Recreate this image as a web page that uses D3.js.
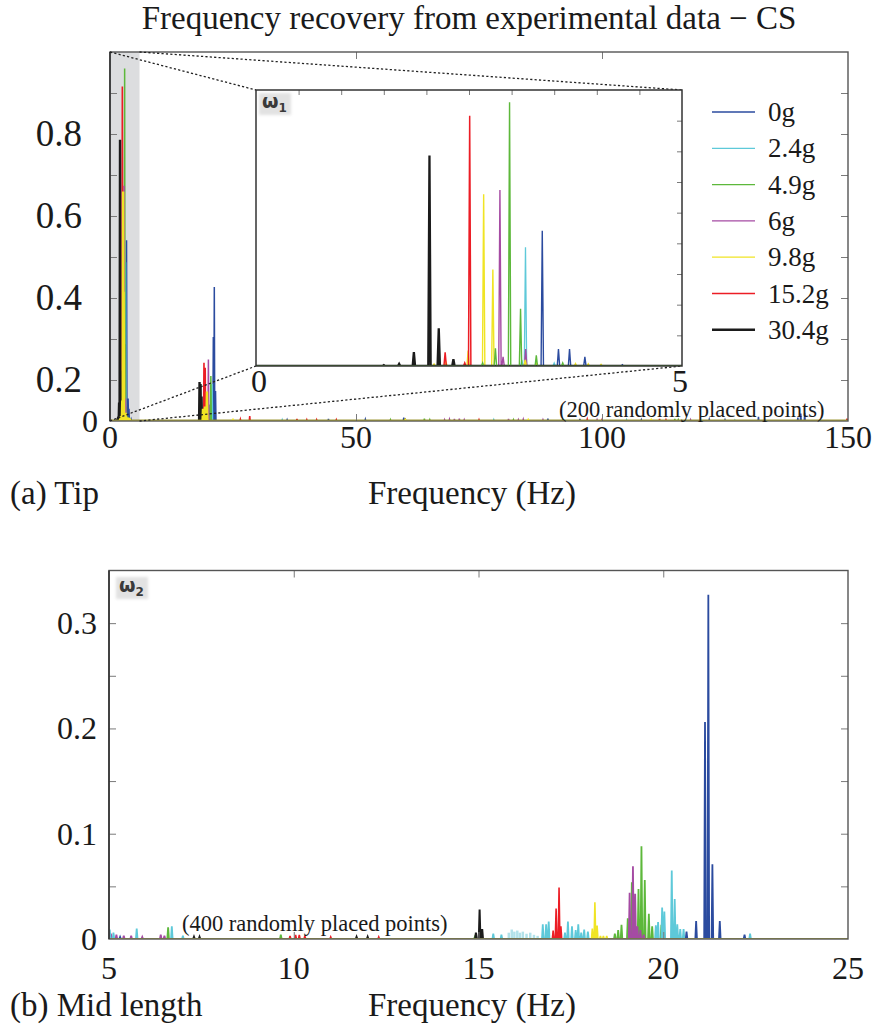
<!DOCTYPE html>
<html>
<head>
<meta charset="utf-8">
<script src="https://cdn.jsdelivr.net/npm/d3@7"></script>
<style>
  body { margin: 0; background: #fff; }
  svg { display: block; }
  text { font-family: "Liberation Serif", "Times New Roman", serif; fill: #1a1a1a; }
</style>
</head>
<body>
<svg id="chart" width="881" height="1026"></svg>
<script>
// ---- load cases and their colours ----
const loads = ["0g", "2.4g", "4.9g", "6g", "9.8g", "15.2g", "30.4g"];
const loadColors = ["#2b4b9f", "#5ec9d9", "#5db83b", "#a54ba3", "#f0e424", "#ec1d25", "#1b1b1b"];

// ---- (a) tip sensor: recovered spikes [frequency Hz, amplitude] ----
const tip_0g = [[3.36, 0.441], [3.55, 0.055], [3.68, 0.055], [3.86, 0.03], [4.3, 0.004],
  [21.0, 0.205], [21.2, 0.327], [21.45, 0.073], [36.0, 0.003], [44.4, 0.005], [51.9, 0.004], [59.7, 0.008],
  [89.0, 0.006], [95.5, 0.005], [108.0, 0.003], [121.8, 0.004], [125.0, 0.003], [131.8, 0.01],
  [139.8, 0.008], [140.4, 0.018], [141.2, 0.02]];
const tip_2_4g = [[3.163, 0.387], [3.12, 0.02], [3.5, 0.01], [20.75, 0.09], [20.6, 0.03],
  [35.0, 0.003], [78.0, 0.003], [105.0, 0.003], [127.0, 0.002]];
const tip_4_9g = [[2.976, 0.86], [3.105, 0.187], [2.81, 0.058], [3.29, 0.035], [2.66, 0.01], [3.6, 0.01],
  [20.5, 0.11], [20.3, 0.04], [57.0, 0.003], [63.9, 0.006], [65.0, 0.003], [82.0, 0.003], [92.0, 0.003],
  [114.8, 0.005], [115.5, 0.003]];
const tip_6g = [[2.863, 0.574], [3.165, 0.055], [2.9, 0.03], [20.0, 0.15], [19.9, 0.06],
  [68.0, 0.003], [69.0, 0.004], [70.0, 0.005], [71.0, 0.006], [72.0, 0.003], [81.0, 0.005], [83.0, 0.003],
  [84.0, 0.004], [88.0, 0.003], [99.0, 0.003], [118.0, 0.003]];
const tip_9_8g = [[2.672, 0.56], [2.78, 0.315], [2.49, 0.05], [2.23, 0.012], [2.09, 0.006], [3.16, 0.02],
  [3.29, 0.01], [3.75, 0.008], [3.9, 0.007], [4.05, 0.005], [19.7, 0.072], [19.3, 0.035], [18.9, 0.03],
  [25.0, 0.002], [60.0, 0.002], [85.0, 0.002], [110.0, 0.002]];
const tip_15_2g = [[2.508, 0.816], [2.22, 0.045], [2.45, 0.01], [19.1, 0.142], [19.35, 0.13], [19.25, 0.05],
  [26.5, 0.004], [28.4, 0.012], [38.0, 0.005], [40.0, 0.003], [42.0, 0.003], [46.0, 0.003], [75.0, 0.003],
  [97.0, 0.004], [100.0, 0.003], [111.7, 0.005], [113.0, 0.003], [149.8, 0.006]];
const tip_30_4g = [[2.036, 0.686], [2.145, 0.123], [1.853, 0.045], [1.68, 0.007], [2.317, 0.022], [1.5, 0.003],
  [18.2, 0.095], [18.4, 0.09], [18.6, 0.06], [60.0, 0.002]];
// faint trace of a spike visible in the zoomed view only
const tip_15_2g_faint = [[2.387, 0.166]];

// ---- (b) mid-length sensor ----
const mid_0g = [[21.13, 0.206], [21.22, 0.327], [21.33, 0.071], [21.53, 0.017], [20.89, 0.017],
  [20.63, 0.007], [22.2, 0.004], [5.3, 0.002]];
const mid_2_4g = [[20.23, 0.065], [20.31, 0.038], [19.97, 0.03], [20.03, 0.026], [19.86, 0.016], [19.8, 0.013],
  [20.38, 0.014], [20.46, 0.0095], [20.55, 0.0095], [22.35, 0.005], [16.74, 0.014], [16.83, 0.014],
  [16.9, 0.0165], [17.34, 0.006], [17.42, 0.0165], [17.53, 0.012], [17.63, 0.0085], [17.7, 0.014],
  [17.78, 0.006], [17.86, 0.009], [17.96, 0.007], [15.4, 0.005], [15.62, 0.004], [5.02, 0.009],
  [5.12, 0.006], [5.75, 0.01], [6.7, 0.012], [7.0, 0.003]];
const mid_4_9g = [[19.41, 0.088], [19.5, 0.056], [19.33, 0.0475], [19.61, 0.024], [19.15, 0.054], [19.04, 0.0196],
  [18.87, 0.0136], [18.78, 0.0085], [18.69, 0.005], [19.7, 0.012], [19.95, 0.0136], [6.6, 0.011],
  [9.65, 0.004], [14.9, 0.002]];
const mid_6g = [[19.18, 0.069], [19.09, 0.044], [19.24, 0.043], [19.3, 0.012], [19.38, 0.0085], [19.47, 0.004],
  [5.05, 0.005], [5.2, 0.004], [5.4, 0.003], [5.6, 0.003], [5.9, 0.002], [6.4, 0.004], [6.5, 0.003]];
const mid_9_8g = [[18.15, 0.035], [18.21, 0.0127], [18.08, 0.01], [18.3, 0.003], [18.38, 0.003], [18.47, 0.003]];
const mid_15_2g = [[17.18, 0.049], [17.1, 0.029], [17.23, 0.012], [17.02, 0.008], [9.9, 0.003], [10.05, 0.004],
  [10.15, 0.004], [10.3, 0.003], [11.0, 0.002], [12.3, 0.002]];
const mid_30_4g = [[15.03, 0.028], [15.1, 0.0095], [14.93, 0.006], [7.3, 0.002], [7.45, 0.002], [11.7, 0.002],
  [12.0, 0.002]];
// faint cluster just above 15.8 Hz
const mid_2_4g_faint = [[15.82, 0.006], [15.9, 0.009], [15.97, 0.007], [16.05, 0.008], [16.12, 0.006],
  [16.2, 0.007], [16.3, 0.005], [16.4, 0.006], [16.5, 0.004], [16.6, 0.003]];

// ---- axis tick labels ----
const tipXTicks = [0, 50, 100, 150];
const tipYLabelValues = [0, 0.1, 0.3, 0.5, 0.7];
const tipYLabels = ["0", "0.2", "0.4", "0.6", "0.8"];
const insetXTicks = [0, 5];
const midXTicks = [5, 10, 15, 20, 25];
const midYTicks = [0, 0.1, 0.2, 0.3];

const tipSeries = [tip_0g, tip_2_4g, tip_4_9g, tip_6g, tip_9_8g, tip_15_2g, tip_30_4g];
const midSeries = [mid_0g, mid_2_4g, mid_4_9g, mid_6g, mid_9_8g, mid_15_2g, mid_30_4g];

const svg = d3.select("#chart");
const defs = svg.append("defs");
defs.append("filter").attr("id", "soft").attr("x", "-50%").attr("y", "-50%").attr("width", "200%").attr("height", "200%")
  .append("feGaussianBlur").attr("stdDeviation", 1.6);

// spike train: baseline with a narrow triangle at every recovered frequency
function spikePath(spikes, x, y, halfWidth) {
  const [d0, d1] = x.domain();
  const pts = [[d0, 0]];
  spikes.slice().sort((a, b) => a[0] - b[0]).forEach(([f, a]) => {
    pts.push([f - halfWidth, 0], [f, a], [f + halfWidth, 0]);
  });
  pts.push([d1, 0]);
  return d3.line().x(d => x(d[0])).y(d => y(d[1]))(pts);
}

function clip(id, x, y) {
  defs.append("clipPath").attr("id", id).append("rect")
    .attr("x", x.range()[0]).attr("y", y.range()[1])
    .attr("width", x.range()[1] - x.range()[0]).attr("height", y.range()[0] - y.range()[1]);
}

function drawSeries(g, series, order, x, y, hw, widths, opacity) {
  order.forEach(i => {
    g.append("path")
      .attr("d", spikePath(series[i], x, y, hw))
      .attr("fill", "none")
      .attr("stroke", loadColors[i])
      .attr("stroke-width", widths[i])
      .attr("stroke-linejoin", "miter")
      .attr("opacity", opacity || 1);
  });
}

function innerTicks(g, axisFn, scale, values, size, tx, ty) {
  const a = g.append("g").attr("transform", `translate(${tx},${ty})`)
    .call(axisFn(scale).tickValues(values).tickSize(size).tickFormat(""));
  a.select(".domain").remove();
  a.selectAll("line").attr("stroke", "#7a7a7a").attr("stroke-width", 1);
}

// ================= (a) Tip =================
const xTip = d3.scaleLinear().domain([0, 150]).range([110, 848]);
const yTip = d3.scaleLinear().domain([0, 0.9]).range([421, 52]);
const zoomEnd = 6;
clip("clipTip", xTip, yTip);

const gTip = svg.append("g");
gTip.append("rect")
  .attr("x", xTip(0)).attr("y", yTip(0.9))
  .attr("width", xTip(zoomEnd) - xTip(0)).attr("height", yTip(0) - yTip(0.9))
  .attr("fill", "#dcdddf");

const tipLines = gTip.append("g").attr("clip-path", "url(#clipTip)");
drawSeries(tipLines, tipSeries, [0, 1, 2, 3, 5, 6, 4], xTip, yTip, 0.09,
  [1.5, 1.5, 1.5, 1.5, 2.4, 1.6, 2.4]);

innerTicks(gTip, d3.axisRight, yTip, d3.range(1, 9).map(k => k / 10), 7, xTip(0), 0);
innerTicks(gTip, d3.axisLeft, yTip, d3.range(1, 9).map(k => k / 10), 7, xTip(150), 0);
innerTicks(gTip, d3.axisTop, xTip, [50, 100], 7, 0, yTip(0));
innerTicks(gTip, d3.axisBottom, xTip, [50, 100], 7, 0, yTip(0.9));

gTip.append("rect")
  .attr("x", xTip(0)).attr("y", yTip(0.9))
  .attr("width", xTip(150) - xTip(0)).attr("height", yTip(0) - yTip(0.9))
  .attr("fill", "none").attr("stroke", "#555").attr("stroke-width", 1.4);
gTip.append("line").attr("x1", xTip(0)).attr("x2", xTip(0)).attr("y1", yTip(0)).attr("y2", yTip(0.9))
  .attr("stroke", "#333").attr("stroke-width", 1.6);

// inset (zoom on the first natural frequency)
const xIn = d3.scaleLinear().domain([0, 5]).range([256, 682]);
const yIn = d3.scaleLinear().domain([0, 0.9]).range([366, 90]);
clip("clipIn", xIn, yIn);

// dotted connectors from the shaded band to the inset corners
const connectors = [
  [[0, 0.9], [xIn.range()[0], yIn.range()[1]]],
  [[zoomEnd, 0.9], [xIn.range()[1], yIn.range()[1]]],
  [[0, 0], [xIn.range()[0], yIn.range()[0]]],
  [[zoomEnd, 0], [xIn.range()[1], yIn.range()[0]]]
];
gTip.selectAll("line.conn").data(connectors).join("line")
  .attr("class", "conn")
  .attr("x1", d => xTip(d[0][0])).attr("y1", d => yTip(d[0][1]))
  .attr("x2", d => d[1][0]).attr("y2", d => d[1][1])
  .attr("stroke", "#222").attr("stroke-width", 1.3).attr("stroke-dasharray", "2.2,2.2");

const gIn = svg.append("g");
gIn.append("rect")
  .attr("x", xIn.range()[0]).attr("y", yIn.range()[1])
  .attr("width", xIn.range()[1] - xIn.range()[0]).attr("height", yIn.range()[0] - yIn.range()[1])
  .attr("fill", "#fff");
const inLines = gIn.append("g").attr("clip-path", "url(#clipIn)");
inLines.selectAll("line.faint").data(tip_15_2g_faint).join("line")
  .attr("x1", d => xIn(d[0])).attr("x2", d => xIn(d[0]))
  .attr("y1", yIn(0)).attr("y2", d => yIn(d[1]))
  .attr("stroke", "#ee5a5e").attr("stroke-width", 5).attr("opacity", 0.55)
  .attr("filter", "url(#soft)");
drawSeries(inLines, tipSeries, [0, 1, 3, 4, 5, 6, 2], xIn, yIn, 0.014,
  [1.4, 1.3, 1.4, 1.4, 1.4, 1.5, 2.3]);

innerTicks(gIn, d3.axisBottom, xIn, d3.range(1, 10).map(k => k / 2), 5, 0, yIn(0.9));
innerTicks(gIn, d3.axisLeft, yIn, d3.range(1, 9).map(k => k / 10), 5, xIn(5), 0);
gIn.append("rect")
  .attr("x", xIn.range()[0]).attr("y", yIn.range()[1])
  .attr("width", xIn.range()[1] - xIn.range()[0]).attr("height", yIn.range()[0] - yIn.range()[1])
  .attr("fill", "none").attr("stroke", "#333").attr("stroke-width", 1.5);

function omegaBadge(g, x, y, sub) {
  g.append("rect").attr("x", x).attr("y", y).attr("width", 32).attr("height", 22)
    .attr("fill", "#e2e2e2").attr("filter", "url(#soft)");
  const t = g.append("text").attr("x", x + 3).attr("y", y + 15)
    .style("font-family", "'DejaVu Sans', sans-serif").style("font-weight", "bold")
    .style("font-size", "19px").style("fill", "#3a3a3a").text("ω");
  t.append("tspan").attr("dy", 4).style("font-size", "12px").text(sub);
}
omegaBadge(gIn, 259, 93, "1");

// legend
const legend = svg.append("g");
loads.forEach((name, i) => {
  const yy = 112 + i * 36.3;
  legend.append("line").attr("x1", 712).attr("x2", 755).attr("y1", yy).attr("y2", yy)
    .attr("stroke", loadColors[i]).attr("stroke-width", i === 6 ? 2.4 : 1.3);
  legend.append("text").attr("x", 768).attr("y", yy + 9).style("font-size", "27px").text(name);
});

// text for panel (a)
svg.append("text").attr("x", 469).attr("y", 29).attr("text-anchor", "middle")
  .style("font-size", "33px").text("Frequency recovery from experimental data \u2212 CS");
svg.selectAll("text.tipy").data(tipYLabelValues).join("text").attr("class", "tipy")
  .attr("x", d => d === 0 ? 98 : 82).attr("y", d => yTip(d) + (d === 0 ? 11 : 12)).attr("text-anchor", "end")
  .style("font-size", d => d === 0 ? "32px" : "37px").text((d, i) => tipYLabels[i]);
svg.selectAll("text.tipx").data(tipXTicks).join("text").attr("class", "tipx")
  .attr("x", d => xTip(d)).attr("y", 448).attr("text-anchor", "middle")
  .style("font-size", "32px").text(d => d);
svg.selectAll("text.inx").data(insetXTicks).join("text").attr("class", "inx")
  .attr("x", d => xIn(d) + (d === 0 ? 3 : -2)).attr("y", 392).attr("text-anchor", "middle")
  .style("font-size", "32px").text(d => d);
svg.append("text").attr("x", 559).attr("y", 417).style("font-size", "22.5px").text("(200 randomly placed points)");
svg.append("text").attr("x", 10).attr("y", 504).style("font-size", "33px").text("(a) Tip");
svg.append("text").attr("x", 368).attr("y", 504).style("font-size", "33px").text("Frequency (Hz)");

// ================= (b) Mid length =================
const xMid = d3.scaleLinear().domain([5, 25]).range([109, 848]);
const yMid = d3.scaleLinear().domain([0, 0.35]).range([939, 570.5]);
clip("clipMid", xMid, yMid);

const gMid = svg.append("g");
const midLines = gMid.append("g").attr("clip-path", "url(#clipMid)");
midLines.selectAll("line.faint").data(mid_2_4g_faint).join("line")
  .attr("x1", d => xMid(d[0])).attr("x2", d => xMid(d[0]))
  .attr("y1", yMid(0)).attr("y2", d => yMid(d[1]))
  .attr("stroke", "#9fdce6").attr("stroke-width", 2.5).attr("opacity", 0.8);
drawSeries(midLines, midSeries, [2, 3, 1, 5, 6, 0, 4], xMid, yMid, 0.022,
  [1.8, 1.8, 1.8, 1.8, 1.6, 1.6, 2]);

innerTicks(gMid, d3.axisRight, yMid, d3.range(1, 7).map(k => k * 0.05), 7, xMid(5), 0);
innerTicks(gMid, d3.axisLeft, yMid, d3.range(1, 7).map(k => k * 0.05), 7, xMid(25), 0);
innerTicks(gMid, d3.axisTop, xMid, [10, 15, 20], 7, 0, yMid(0));
innerTicks(gMid, d3.axisBottom, xMid, [10, 15, 20], 7, 0, yMid(0.35));
gMid.append("rect")
  .attr("x", xMid(5)).attr("y", yMid(0.35))
  .attr("width", xMid(25) - xMid(5)).attr("height", yMid(0) - yMid(0.35))
  .attr("fill", "none").attr("stroke", "#555").attr("stroke-width", 1.4);
gMid.append("line").attr("x1", xMid(5)).attr("x2", xMid(5)).attr("y1", yMid(0)).attr("y2", yMid(0.35))
  .attr("stroke", "#333").attr("stroke-width", 1.6);
omegaBadge(gMid, 116, 577, "2");

svg.selectAll("text.midy").data(midYTicks).join("text").attr("class", "midy")
  .attr("x", 97).attr("y", d => yMid(d) + 11).attr("text-anchor", "end")
  .style("font-size", "32px").text(d => d);
svg.selectAll("text.midx").data(midXTicks).join("text").attr("class", "midx")
  .attr("x", d => xMid(d)).attr("y", 979).attr("text-anchor", "middle")
  .style("font-size", "32px").text(d => d);
svg.append("text").attr("x", 182).attr("y", 931).style("font-size", "22.5px").text("(400 randomly placed points)");
svg.append("text").attr("x", 10).attr("y", 1016).style("font-size", "33px").text("(b) Mid length");
svg.append("text").attr("x", 368).attr("y", 1016).style("font-size", "33px").text("Frequency (Hz)");
</script>
</body>
</html>
